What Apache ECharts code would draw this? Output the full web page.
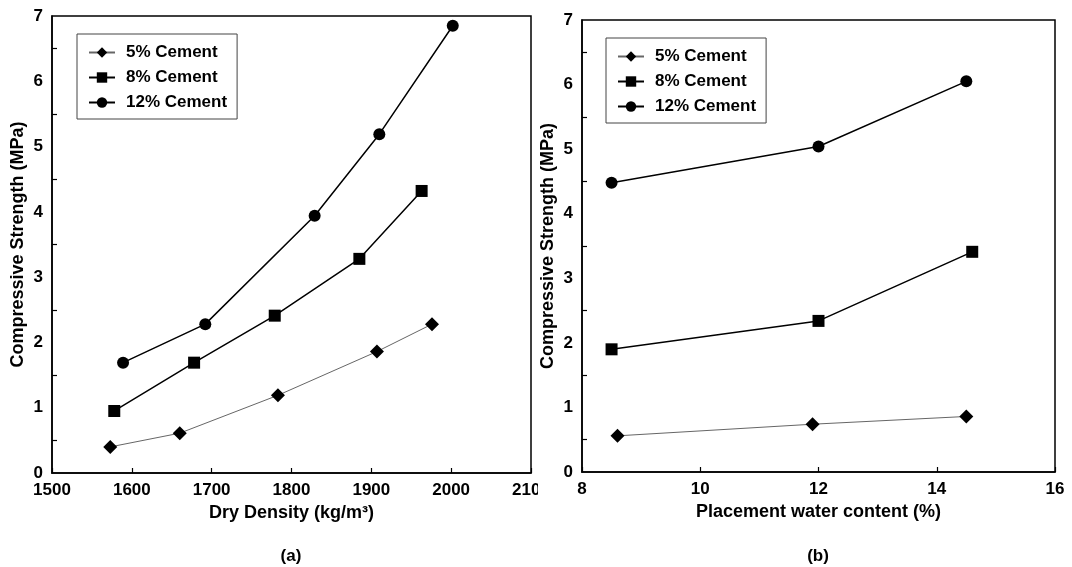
<!DOCTYPE html>
<html>
<head>
<meta charset="utf-8">
<script src="https://cdn.jsdelivr.net/npm/echarts@6/dist/echarts.min.js"></script>
<style>
  html, body { margin: 0; padding: 0; background: #fff; }
  #chart { width: 1072px; height: 567px; }
</style>
</head>
<body>
<div id="chart"></div>
<script>
  // (a) dry density vs strength
  var densA5 = [1573, 1660, 1783, 1907, 1976]
  var strA5 = [0.40, 0.61, 1.19, 1.86, 2.28]
  var densA8 = [1578, 1678, 1779, 1885, 1963]
  var strA8 = [0.95, 1.69, 2.41, 3.28, 4.32]
  var densA12 = [1589, 1692, 1829, 1910, 2002]
  var strA12 = [1.69, 2.28, 3.94, 5.19, 6.85]

  // (b) placement water content vs strength
  var waterB5 = [8.6, 11.9, 14.5]
  var strB5 = [0.56, 0.74, 0.86]
  var waterB8 = [8.5, 12.0, 14.6]
  var strB8 = [1.90, 2.34, 3.41]
  var waterB12 = [8.5, 12.0, 14.5]
  var strB12 = [4.48, 5.04, 6.05]

  var seriesNames = ['5% Cement', '8% Cement', '12% Cement']
  var panelLabels = ['(a)', '(b)']

  var font = '"Liberation Sans", Arial, sans-serif'

  function pairs(xs, ys) {
    return xs.map(function (x, i) { return [x, ys[i]] })
  }

  function plain(v) { return String(v) }

  function yAxisCfg(gridIndex) {
    return {
      type: 'value', gridIndex: gridIndex,
      min: 0, max: 7, interval: 1,
      name: 'Compressive Strength (MPa)', nameLocation: 'middle', nameGap: 25,
      nameTextStyle: { fontFamily: font, fontWeight: 'bold', fontSize: 18, color: '#000' },
      axisLine: { show: true, lineStyle: { color: '#000', width: 1.5 } },
      // only the half-unit ticks are drawn in the original
      axisTick: { show: true, inside: true, length: 0 },
      minorTick: { show: true, splitNumber: 2, length: 5, lineStyle: { color: '#000', width: 1.2 } },
      splitLine: { show: false },
      axisLabel: { fontFamily: font, fontWeight: 'bold', fontSize: 17, color: '#000', margin: 9, formatter: plain }
    }
  }

  function xAxisCfg(gridIndex, min, max, interval, name) {
    return {
      type: 'value', gridIndex: gridIndex,
      min: min, max: max, interval: interval,
      name: name, nameLocation: 'middle', nameGap: 30,
      nameTextStyle: { fontFamily: font, fontWeight: 'bold', fontSize: 18, color: '#000' },
      axisLine: { show: true, lineStyle: { color: '#000', width: 1.5 } },
      axisTick: { show: true, inside: true, length: 5, lineStyle: { color: '#000', width: 1.2 } },
      splitLine: { show: false },
      axisLabel: { fontFamily: font, fontWeight: 'bold', fontSize: 17, color: '#000', margin: 9, formatter: plain }
    }
  }

  function lineSeries(name, idx, data, symbol, size, lineColor, lineWidth) {
    return {
      name: name, type: 'line',
      xAxisIndex: idx, yAxisIndex: idx,
      data: data,
      symbol: symbol, symbolSize: size,
      itemStyle: { color: '#000' },
      lineStyle: { color: lineColor, width: lineWidth },
      emphasis: { disabled: true },
      animation: false
    }
  }

  function legendCfg(left, top) {
    return {
      orient: 'vertical', left: left, top: top,
      data: seriesNames,
      backgroundColor: '#fff',
      borderColor: '#444', borderWidth: 1,
      padding: [10, 10, 8, 11],
      itemWidth: 26, itemHeight: 13, itemGap: 8,
      textStyle: { fontFamily: font, fontWeight: 'bold', fontSize: 17, color: '#000', padding: [0, 0, 0, 6] },
      selectedMode: false
    }
  }

  var chart = echarts.init(document.getElementById('chart'))

  chart.setOption({
    backgroundColor: '#fff',
    animation: false,
    grid: [
      { left: 52, top: 16, width: 479, height: 457, show: true, borderColor: '#000', borderWidth: 1.5 },
      { left: 582, top: 20, width: 473, height: 452, show: true, borderColor: '#000', borderWidth: 1.5 }
    ],
    legend: [legendCfg(77, 34), legendCfg(606, 38)],
    xAxis: [
      xAxisCfg(0, 1500, 2100, 100, 'Dry Density (kg/m³)'),
      xAxisCfg(1, 8, 16, 2, 'Placement water content (%)')
    ],
    yAxis: [yAxisCfg(0), yAxisCfg(1)],
    series: [
      lineSeries(seriesNames[0], 0, pairs(densA5, strA5), 'diamond', 14, '#666', 1),
      lineSeries(seriesNames[1], 0, pairs(densA8, strA8), 'rect', 12, '#000', 1.5),
      lineSeries(seriesNames[2], 0, pairs(densA12, strA12), 'circle', 12, '#000', 1.5),
      lineSeries(seriesNames[0], 1, pairs(waterB5, strB5), 'diamond', 14, '#666', 1),
      lineSeries(seriesNames[1], 1, pairs(waterB8, strB8), 'rect', 12, '#000', 1.5),
      lineSeries(seriesNames[2], 1, pairs(waterB12, strB12), 'circle', 12, '#000', 1.5)
    ],
    graphic: [
      // the left figure is cropped by the right one in the original
      { type: 'rect', left: 538, top: 478, shape: { width: 22, height: 26 }, style: { fill: '#fff' }, z: 100 },
      { type: 'text', x: 291, y: 556, style: { text: panelLabels[0], fontFamily: font, fontWeight: 'bold', fontSize: 17, fill: '#000', align: 'center', verticalAlign: 'middle' } },
      { type: 'text', x: 818, y: 556, style: { text: panelLabels[1], fontFamily: font, fontWeight: 'bold', fontSize: 17, fill: '#000', align: 'center', verticalAlign: 'middle' } }
    ]
  })
</script>
</body>
</html>
